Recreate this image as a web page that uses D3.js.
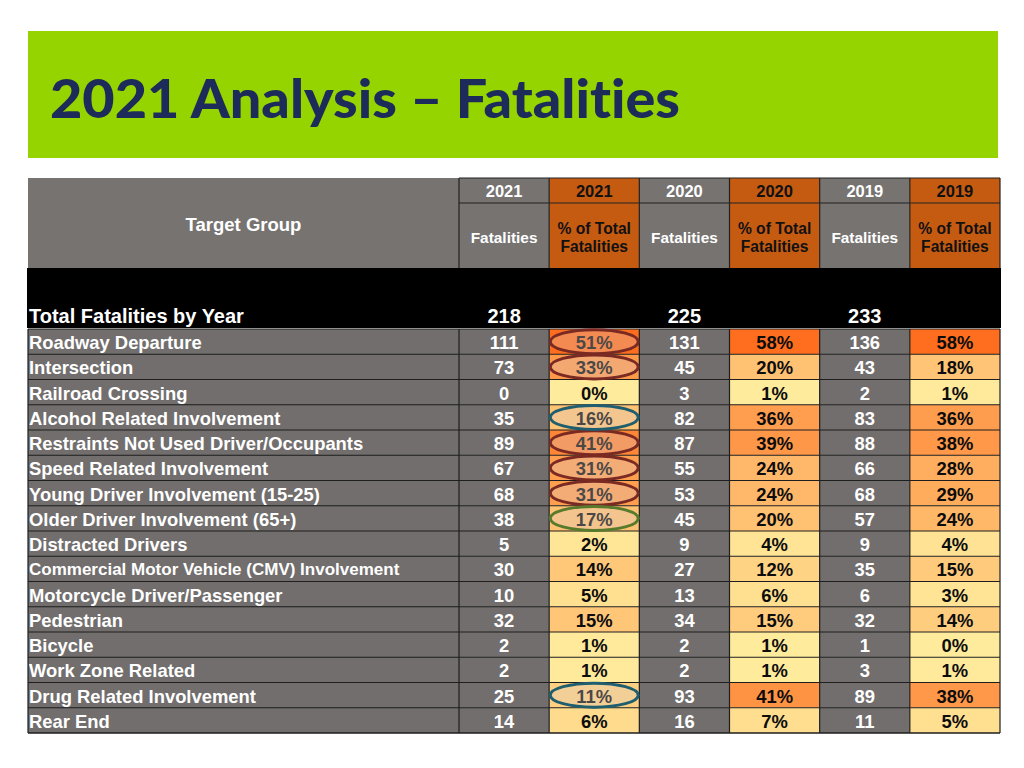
<!DOCTYPE html>
<html>
<head>
<meta charset="utf-8">
<script src="https://cdn.jsdelivr.net/npm/d3@7"></script>
<style>
  html, body { margin: 0; padding: 0; background: #ffffff; }
  svg { display: block; }
  text { font-family: "Liberation Sans", Arial, sans-serif; font-weight: bold; font-variant-ligatures: none; }
</style>
</head>
<body>
<svg id="chart" width="1024" height="768"></svg>
<script>
// ---------- DATA ----------
const title = "2021 Analysis \u2013 Fatalities";
const categories = [
  "Roadway Departure", "Intersection", "Railroad Crossing",
  "Alcohol Related Involvement", "Restraints Not Used Driver/Occupants",
  "Speed Related Involvement", "Young Driver Involvement (15-25)",
  "Older Driver Involvement (65+)", "Distracted Drivers",
  "Commercial Motor Vehicle (CMV) Involvement", "Motorcycle Driver/Passenger",
  "Pedestrian", "Bicycle", "Work Zone Related", "Drug Related Involvement", "Rear End"
];
const years = ["2021", "2020", "2019"];
const totals = [218, 225, 233];
const fat2021 = [111, 73, 0, 35, 89, 67, 68, 38, 5, 30, 10, 32, 2, 2, 25, 14];
const pct2021 = [51, 33, 0, 16, 41, 31, 31, 17, 2, 14, 5, 15, 1, 1, 11, 6];
const fat2020 = [131, 45, 3, 82, 87, 55, 53, 45, 9, 27, 13, 34, 2, 2, 93, 16];
const pct2020 = [58, 20, 1, 36, 39, 24, 24, 20, 4, 12, 6, 15, 1, 1, 41, 7];
const fat2019 = [136, 43, 2, 83, 88, 66, 68, 57, 9, 35, 6, 32, 1, 3, 89, 11];
const pct2019 = [58, 18, 1, 36, 38, 28, 29, 24, 4, 15, 3, 14, 0, 1, 38, 5];
// circled cells in the 2021 % column: category -> ring group
const highlightRed = ["Roadway Departure", "Intersection", "Restraints Not Used Driver/Occupants",
                      "Speed Related Involvement", "Young Driver Involvement (15-25)"];
const highlightTeal = ["Alcohol Related Involvement", "Drug Related Involvement"];
const highlightGreen = ["Older Driver Involvement (65+)"];

// ---------- LAYOUT ----------
const svg = d3.select("#chart");
const L = 28, R = 1000, labelRight = 459;
const headTop = 178, headMid = 203, headBot = 268, blackBot = 328, rowsTop = 329, rowsBot = 733;

const colKeys = ["f2021", "p2021", "f2020", "p2020", "f2019", "p2019"];
const x = d3.scaleBand().domain(colKeys).range([labelRight, R]);
const y = d3.scaleBand().domain(categories).range([rowsTop, rowsBot]);

const columns = [
  { key: "f2021", year: years[0], type: "f", vals: fat2021 },
  { key: "p2021", year: years[0], type: "p", vals: pct2021 },
  { key: "f2020", year: years[1], type: "f", vals: fat2020 },
  { key: "p2020", year: years[1], type: "p", vals: pct2020 },
  { key: "f2019", year: years[2], type: "f", vals: fat2019 },
  { key: "p2019", year: years[2], type: "p", vals: pct2019 }
];

const GRAY_HEAD = "#767371", GRAY = "#716e6d", ORANGE_HEAD = "#C55A11";

// Title banner
svg.append("rect").attr("x", 28).attr("y", 31).attr("width", 970).attr("height", 127).attr("fill", "#96D400");
svg.append("text").attr("x", 50).attr("y", 118)
  .attr("textLength", 630).attr("lengthAdjust", "spacingAndGlyphs")
  .style("font-family", "Lato, 'Open Sans', sans-serif").style("font-size", "54px").style("font-weight", 900)
  .attr("fill", "#1c2b5a").text(title);

// Header
svg.append("rect").attr("x", L).attr("y", headTop).attr("width", labelRight - L).attr("height", headBot - headTop).attr("fill", GRAY_HEAD);
svg.append("text").attr("x", (L + labelRight) / 2).attr("y", 224).attr("text-anchor", "middle")
  .attr("dominant-baseline", "central").attr("fill", "#fff").style("font-size", "18.5px").text("Target Group");

const head = svg.append("g");
columns.forEach(c => {
  const x0 = x(c.key), w = x.bandwidth();
  const fill = c.type === "f" ? GRAY_HEAD : ORANGE_HEAD;
  const tc = c.type === "f" ? "#ffffff" : "#111111";
  head.append("rect").attr("x", x0).attr("y", headTop).attr("width", w).attr("height", headBot - headTop).attr("fill", fill);
  head.append("text").attr("x", x0 + w / 2).attr("y", 191).attr("text-anchor", "middle").attr("dominant-baseline", "central")
    .attr("fill", tc).style("font-size", "16.5px").text(c.year);
  if (c.type === "f") {
    head.append("text").attr("x", x0 + w / 2).attr("y", 237).attr("text-anchor", "middle").attr("dominant-baseline", "central")
      .attr("fill", tc).style("font-size", "15.4px").text("Fatalities");
  } else {
    head.append("text").attr("x", x0 + w / 2).attr("y", 228).attr("text-anchor", "middle").attr("dominant-baseline", "central")
      .attr("fill", tc).style("font-size", "15.6px").text("% of Total");
    head.append("text").attr("x", x0 + w / 2).attr("y", 246).attr("text-anchor", "middle").attr("dominant-baseline", "central")
      .attr("fill", tc).style("font-size", "15.6px").text("Fatalities");
  }
});
// header grid lines
head.append("line").attr("x1", labelRight).attr("x2", R).attr("y1", headTop).attr("y2", headTop).attr("stroke", "#222").attr("stroke-width", 1.2);
head.append("line").attr("x1", labelRight).attr("x2", R).attr("y1", headMid).attr("y2", headMid).attr("stroke", "#222").attr("stroke-width", 1.2);
colKeys.forEach(k => head.append("line").attr("x1", x(k)).attr("x2", x(k)).attr("y1", headTop).attr("y2", headBot).attr("stroke", "#222").attr("stroke-width", 1.2));
head.append("line").attr("x1", R).attr("x2", R).attr("y1", headTop).attr("y2", headBot).attr("stroke", "#222").attr("stroke-width", 1.2);

// Black total band
svg.append("rect").attr("x", L - 1).attr("y", headBot).attr("width", R - L + 2).attr("height", blackBot - headBot).attr("fill", "#000");
svg.append("text").attr("x", L + 1).attr("y", 316).attr("dominant-baseline", "central").attr("fill", "#fff")
  .style("font-size", "20px").text("Total Fatalities by Year");
columns.filter(c => c.type === "f").forEach((c, i) => {
  svg.append("text").attr("x", x(c.key) + x.bandwidth() / 2).attr("y", 316).attr("text-anchor", "middle")
    .attr("dominant-baseline", "central").attr("fill", "#fff").style("font-size", "20px").text(totals[i]);
});

// Body
const body = svg.append("g");
body.append("rect").attr("x", L).attr("y", rowsTop).attr("width", labelRight - L).attr("height", rowsBot - rowsTop).attr("fill", GRAY);
categories.forEach(cat => {
  body.append("text").attr("x", L + 1).attr("y", y(cat) + y.bandwidth() / 2 + 1).attr("dominant-baseline", "central")
    .attr("fill", "#fff").style("font-size", cat.length > 40 ? "17px" : "18.4px").text(cat);
});
columns.forEach(c => {
  const w = x.bandwidth();
  let color = null;
  if (c.type === "p") {
    const ext = d3.extent(c.vals);
    color = d3.scaleLinear().domain(ext).range(["#FFEB9C", "#FF6D1E"]).interpolate(d3.interpolateRgb);
  }
  categories.forEach((cat, i) => {
    const v = c.vals[i];
    body.append("rect").attr("x", x(c.key)).attr("y", y(cat)).attr("width", w).attr("height", y.bandwidth())
      .attr("fill", c.type === "f" ? GRAY : color(v));
    body.append("text").attr("x", x(c.key) + w / 2).attr("y", y(cat) + y.bandwidth() / 2 + 1).attr("text-anchor", "middle")
      .attr("dominant-baseline", "central").attr("fill", c.type === "f" ? "#fff" : "#0d0d0d")
      .style("font-size", "18.4px").text(c.type === "f" ? v : v + "%");
  });
});
// grid lines
categories.forEach(cat => {
  body.append("line").attr("x1", L).attr("x2", R).attr("y1", y(cat)).attr("y2", y(cat)).attr("stroke", "#1e1e1e").attr("stroke-width", 1);
});
body.append("line").attr("x1", L).attr("x2", R).attr("y1", rowsBot).attr("y2", rowsBot).attr("stroke", "#1e1e1e").attr("stroke-width", 1.5);
[L, ...colKeys.map(k => x(k)), R].forEach(xx => {
  body.append("line").attr("x1", xx).attr("x2", xx).attr("y1", rowsTop).attr("y2", rowsBot).attr("stroke", "#1e1e1e").attr("stroke-width", 1.2);
});

// Highlight rings on 2021 % column
const rings = [
  ...highlightRed.map(c => ({ cat: c, stroke: "#7a2a22" })),
  ...highlightTeal.map(c => ({ cat: c, stroke: "#1f5e6e" })),
  ...highlightGreen.map(c => ({ cat: c, stroke: "#587a2c" }))
];
rings.forEach(r => {
  body.append("ellipse").attr("cx", x("p2021") + x.bandwidth() / 2).attr("cy", y(r.cat) + y.bandwidth() / 2)
    .attr("rx", 44).attr("ry", 12)
    .attr("fill", "rgba(215,205,205,0.30)").attr("stroke", r.stroke).attr("stroke-width", 3);
});
</script>
</body>
</html>
